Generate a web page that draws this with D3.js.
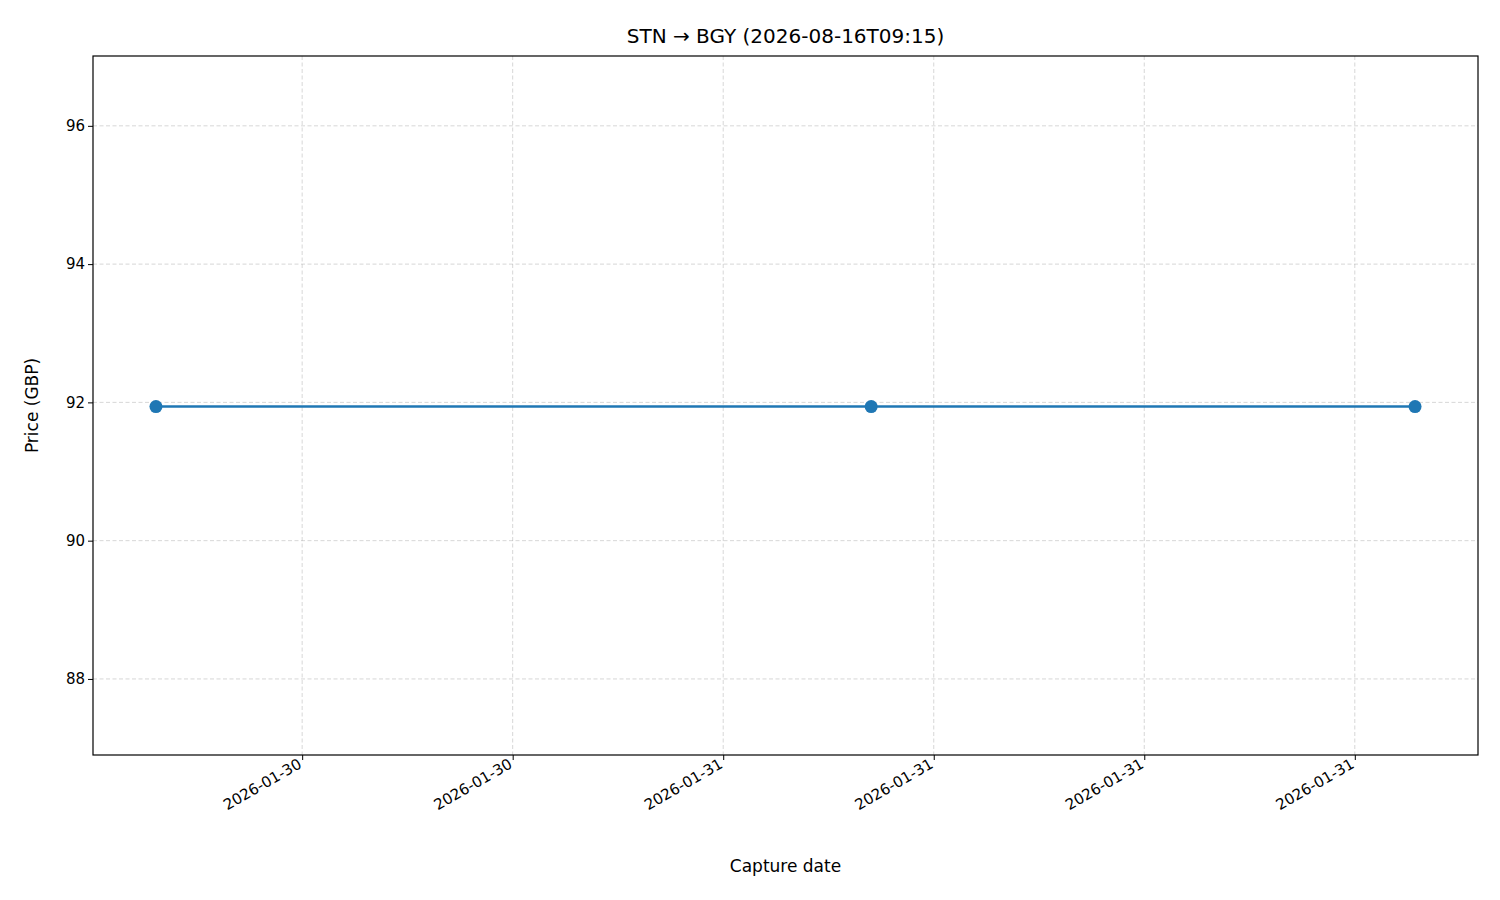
<!DOCTYPE html>
<html><head><meta charset="utf-8">
<script src="https://cdn.jsdelivr.net/npm/d3@7"></script>
<style>body{margin:0;background:#fff;font-family:"DejaVu Sans",sans-serif}</style>
</head><body><svg id="c" width="1500" height="900"></svg>
<script>
const captureTimes = ["2026-01-30T07:50","2026-01-31T04:13","2026-01-31T19:43"];
const prices = [91.94, 91.94, 91.94];
const xTicks = ["2026-01-30T12:00","2026-01-30T18:00","2026-01-31T00:00","2026-01-31T06:00","2026-01-31T12:00","2026-01-31T18:00"];
const yTicks = [88, 90, 92, 94, 96];
const title = "STN → BGY (2026-08-16T09:15)";

const parse = d3.timeParse("%Y-%m-%dT%H:%M");
const data = captureTimes.map((t,i)=>({t:parse(t), v:prices[i]}));
const L=93,R=1478,T=56,B=755;
const svg=d3.select("#c");
const t0=data[0].t, t1=data[data.length-1].t, span=t1-t0;
const x=d3.scaleTime().domain([new Date(+t0-0.05*span), new Date(+t1+0.05*span)]).range([L,R]);
const y=d3.scaleLinear().domain([86.9,97.01]).range([B,T]);
const fmt=d3.timeFormat("%Y-%m-%d");
const xt=xTicks.map(parse);

const g=svg.append("g");
g.selectAll(".gx").data(xt).enter().append("line").attr("x1",d=>x(d)).attr("x2",d=>x(d)).attr("y1",T).attr("y2",B)
 .attr("stroke","#b0b0b0").attr("stroke-opacity",0.5).attr("stroke-dasharray","4,2.5");
g.selectAll(".gy").data(yTicks).enter().append("line").attr("y1",d=>y(d)).attr("y2",d=>y(d)).attr("x1",L).attr("x2",R)
 .attr("stroke","#b0b0b0").attr("stroke-opacity",0.5).attr("stroke-dasharray","4,2.5");

const xa=svg.append("g").attr("transform",`translate(0,${B})`).call(d3.axisBottom(x).tickValues(xt).tickFormat(fmt).tickSizeOuter(0).tickSize(5));
xa.selectAll("text").attr("font-size",15).attr("fill","#000").attr("font-family","DejaVu Sans")
  .attr("text-anchor","end").attr("dy",0).attr("transform","translate(0,12) rotate(-30)").attr("y",0).attr("x",0);
const ya=svg.append("g").attr("transform",`translate(${L},0)`).call(d3.axisLeft(y).tickValues(yTicks).tickSizeOuter(0).tickSize(5));
ya.selectAll("text").attr("font-size",15).attr("fill","#000").attr("font-family","DejaVu Sans");
svg.selectAll(".domain").remove();
svg.selectAll(".tick line").attr("stroke","#000");
svg.append("rect").attr("x",L).attr("y",T).attr("width",R-L).attr("height",B-T).attr("fill","none").attr("stroke","#000").attr("stroke-width",1.2);

svg.append("path").datum(data).attr("d",d3.line().x(d=>x(d.t)).y(d=>y(d.v))).attr("fill","none").attr("stroke","#1f77b4").attr("stroke-width",2.5);
svg.selectAll(".pt").data(data).enter().append("circle").attr("cx",d=>x(d.t)).attr("cy",d=>y(d.v)).attr("r",6.5).attr("fill","#1f77b4");

svg.append("text").attr("x",(L+R)/2).attr("y",43).attr("text-anchor","middle").attr("font-size",20).text(title);
svg.append("text").attr("x",(L+R)/2).attr("y",872).attr("text-anchor","middle").attr("font-size",17).text("Capture date");
svg.append("text").attr("transform",`translate(38,${(T+B)/2}) rotate(-90)`).attr("text-anchor","middle").attr("font-size",17).text("Price (GBP)");
</script></body></html>
